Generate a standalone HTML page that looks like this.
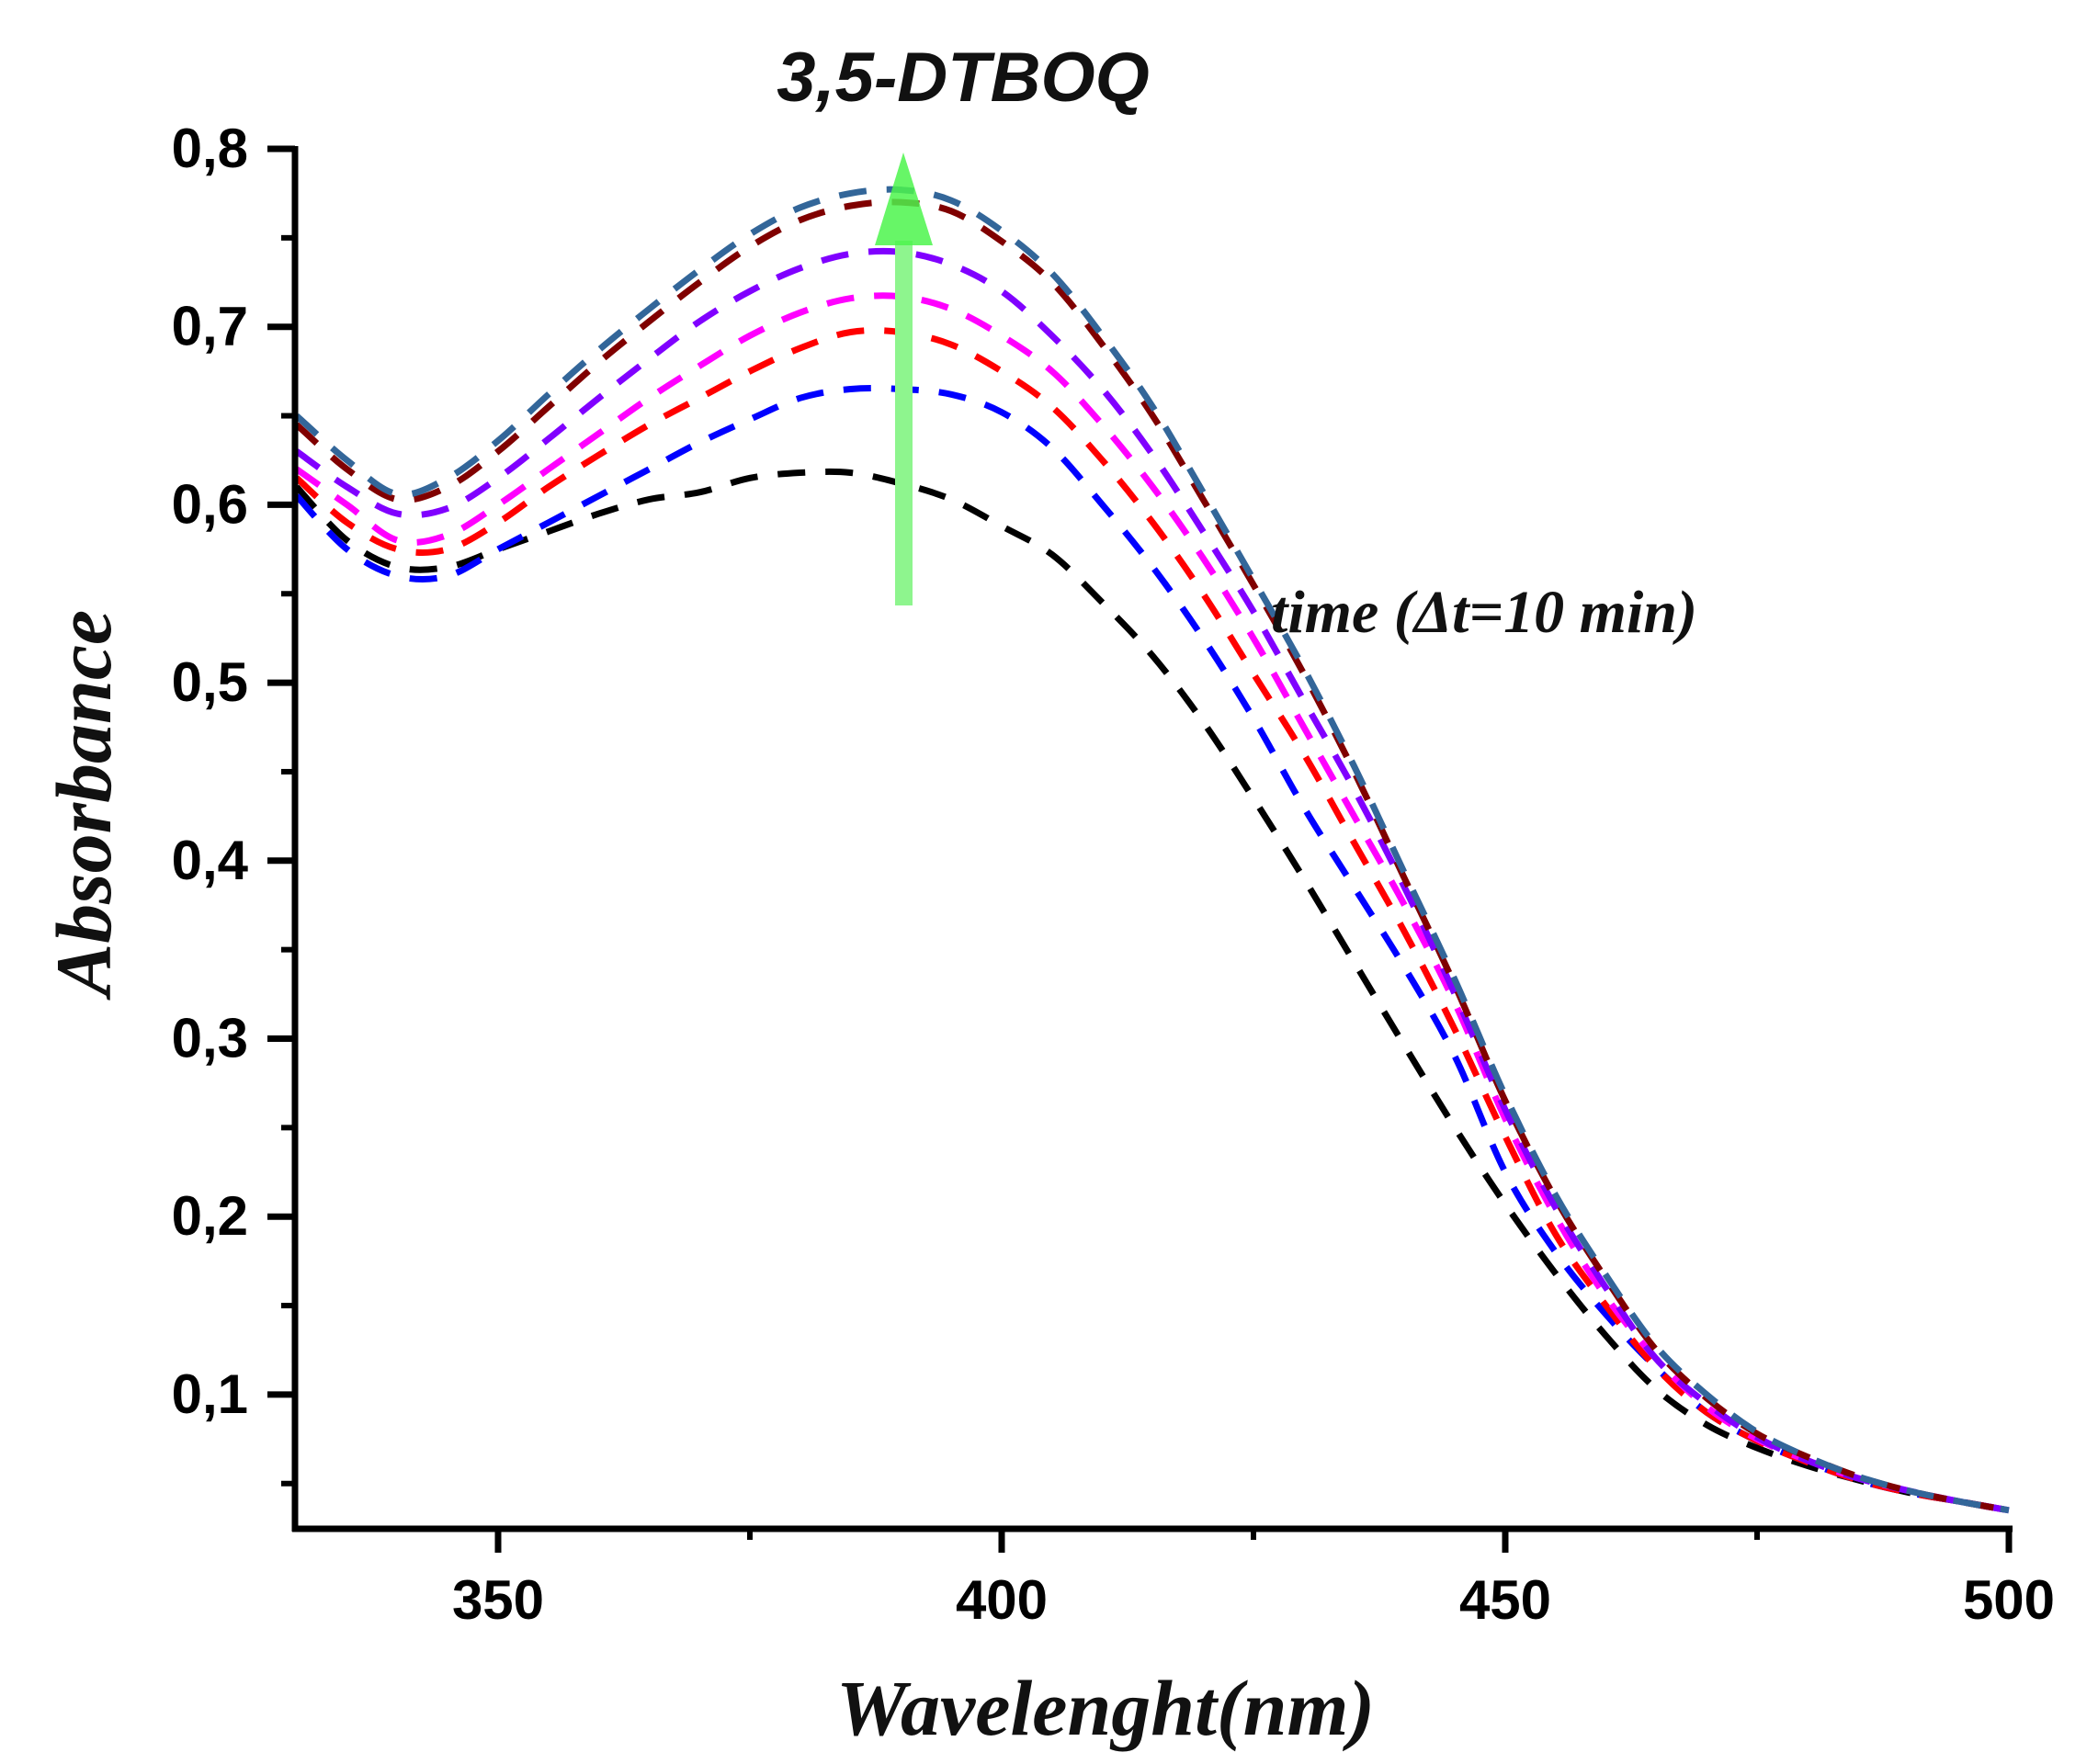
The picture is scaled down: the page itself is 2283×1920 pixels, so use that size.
<!DOCTYPE html>
<html><head><meta charset="utf-8">
<style>
html,body{margin:0;padding:0;background:#fff;}
svg{display:block;}
</style></head>
<body>
<svg id="chart" width="2283" height="1920" viewBox="0 0 2283 1920" xmlns="http://www.w3.org/2000/svg">
  <rect width="2283" height="1920" fill="#fff"/>
  <text x="1048" y="110" text-anchor="middle" font-family="Liberation Sans, sans-serif" font-weight="bold" font-style="italic" font-size="76" fill="#111">3,5-DTBOQ</text>
  <g id="series"></g>
  <g id="axes"></g>
  <g>
    <rect x="974" y="262" width="19" height="397" fill="#8ef58e"/>
    <polygon points="983,166 1015,267 952,267" fill="#4cf54c" opacity="0.85"/>
  </g>
  <text x="1383" y="688" font-family="Liberation Serif, serif" font-weight="bold" font-style="italic" font-size="66" fill="#111">time (Δt=10 min)</text>
  <text transform="translate(120,874) rotate(-90)" text-anchor="middle" font-family="Liberation Serif, serif" font-weight="bold" font-style="italic" font-size="86" fill="#111">Absorbance</text>
  <text x="1203" y="1888" text-anchor="middle" font-family="Liberation Serif, serif" font-weight="bold" font-style="italic" font-size="86" fill="#111">Wavelenght(nm)</text>
</svg>
<script>
const wavelengths = [330,335,340,345,350,355,360,365,370,375,380,385,390,395,400,405,410,415,420,425,430,435,440,445,450,455,460,465,470,475,480,485,490,495,500];
const seriesBlack   = [.61,.58,.565,.565,.575,.585,.595,.603,.607,.615,.618,.618,.612,.603,.588,.572,.545,.515,.478,.435,.39,.343,.296,.25,.207,.168,.133,.103,.083,.07,.06,.052,.045,.04,.035];
const seriesBlue    = [.605,.575,.56,.56,.575,.59,.605,.62,.635,.648,.66,.665,.665,.662,.652,.632,.6,.565,.525,.48,.43,.385,.34,.29,.225,.18,.145,.115,.09,.074,.062,.052,.045,.04,.035];
const seriesRed     = [.615,.59,.575,.575,.59,.61,.628,.645,.66,.675,.688,.697,.697,.69,.675,.655,.625,.59,.55,.505,.46,.41,.36,.305,.245,.19,.15,.115,.09,.074,.062,.052,.045,.04,.035];
const seriesMagenta = [.62,.6,.58,.583,.6,.62,.64,.66,.678,.695,.708,.716,.717,.71,.695,.675,.645,.61,.57,.525,.475,.425,.375,.32,.255,.2,.155,.12,.093,.075,.063,.053,.046,.04,.035];
const seriesViolet  = [.63,.61,.595,.598,.615,.637,.66,.682,.703,.72,.733,.741,.742,.735,.72,.695,.665,.628,.585,.54,.49,.44,.385,.325,.26,.205,.16,.12,.095,.076,.063,.053,.046,.04,.035];
const seriesDarkRed = [.645,.62,.603,.61,.63,.655,.68,.703,.725,.745,.76,.768,.77,.765,.748,.725,.69,.65,.603,.555,.505,.45,.39,.33,.265,.21,.165,.125,.098,.078,.065,.054,.046,.04,.035];
const seriesSteel   = [.65,.625,.606,.615,.636,.662,.687,.71,.732,.752,.767,.775,.777,.771,.754,.73,.695,.655,.607,.558,.508,.453,.393,.333,.268,.212,.167,.127,.1,.079,.065,.054,.046,.04,.035];
const seriesList = [seriesBlack, seriesBlue, seriesRed, seriesMagenta, seriesViolet, seriesDarkRed, seriesSteel];
const seriesNames = ['t0','t10','t20','t30','t40','t50','t60'];
const seriesColors = ['#000000','#0000ff','#ff0000','#ff00ff','#8000ff','#800000','#336699'];
const xTicks = [350,400,450,500];
const xMinorTicks = [375,425,475];
const yTicks = [0.1,0.2,0.3,0.4,0.5,0.6,0.7,0.8];
const yTickLabels = ['0,1','0,2','0,3','0,4','0,5','0,6','0,7','0,8'];
const yMinorTicks = [0.05,0.15,0.25,0.35,0.45,0.55,0.65,0.75];

const NS='http://www.w3.org/2000/svg';
function xs(nm){return 542+(nm-350)*10.96;}
function ys(v){return 162+(0.8-v)*1937;}
function mk(tag,attrs,parent){const e=document.createElementNS(NS,tag);for(const k in attrs)e.setAttribute(k,attrs[k]);parent.appendChild(e);return e;}

const sg=document.getElementById('series');
seriesList.forEach((s,i)=>{
  const pts=s.map((v,j)=>[xs(wavelengths[j]),ys(v)]);
  let d='M'+pts[0][0].toFixed(1)+','+pts[0][1].toFixed(1);
  for(let j=0;j<pts.length-1;j++){
    const p0=pts[Math.max(0,j-1)],p1=pts[j],p2=pts[j+1],p3=pts[Math.min(pts.length-1,j+2)];
    const c1=[p1[0]+(p2[0]-p0[0])/6,p1[1]+(p2[1]-p0[1])/6];
    const c2=[p2[0]-(p3[0]-p1[0])/6,p2[1]-(p3[1]-p1[1])/6];
    d+=' C'+c1.map(n=>n.toFixed(1)).join(',')+' '+c2.map(n=>n.toFixed(1)).join(',')+' '+p2.map(n=>n.toFixed(1)).join(',');
  }
  const p=mk('path',{d:d,fill:'none',stroke:seriesColors[i],'stroke-width':7,'stroke-dasharray':'30 22'},sg);
  
  
});

const ag=document.getElementById('axes');
const yAxis=mk('line',{x1:321,y1:159,x2:321,y2:1667,stroke:'#000','stroke-width':7},ag);


const xAxis=mk('line',{x1:318,y1:1664,x2:2190,y2:1664,stroke:'#000','stroke-width':7},ag);



yTicks.forEach((v,i)=>{
  const t=mk('line',{x1:291,y1:ys(v),x2:321,y2:ys(v),stroke:'#000','stroke-width':7},ag);
  
  
  const l=mk('text',{x:270,y:ys(v)+20,'text-anchor':'end','font-family':'Liberation Sans, sans-serif','font-weight':'bold','font-size':60,fill:'#000'},ag);
  l.textContent=yTickLabels[i];
  
  
});
yMinorTicks.forEach(v=>{
  const t=mk('line',{x1:306,y1:ys(v),x2:321,y2:ys(v),stroke:'#000','stroke-width':6},ag);
  
  
});
xTicks.forEach(v=>{
  const t=mk('line',{x1:xs(v),y1:1664,x2:xs(v),y2:1690,stroke:'#000','stroke-width':7},ag);
  
  
  const l=mk('text',{x:xs(v),y:1762,'text-anchor':'middle','font-family':'Liberation Sans, sans-serif','font-weight':'bold','font-size':60,fill:'#000'},ag);
  l.textContent=String(v);
  
  
});
xMinorTicks.forEach(v=>{
  const t=mk('line',{x1:xs(v),y1:1664,x2:xs(v),y2:1676,stroke:'#000','stroke-width':6},ag);
  
  
});
</script>
</body></html>
